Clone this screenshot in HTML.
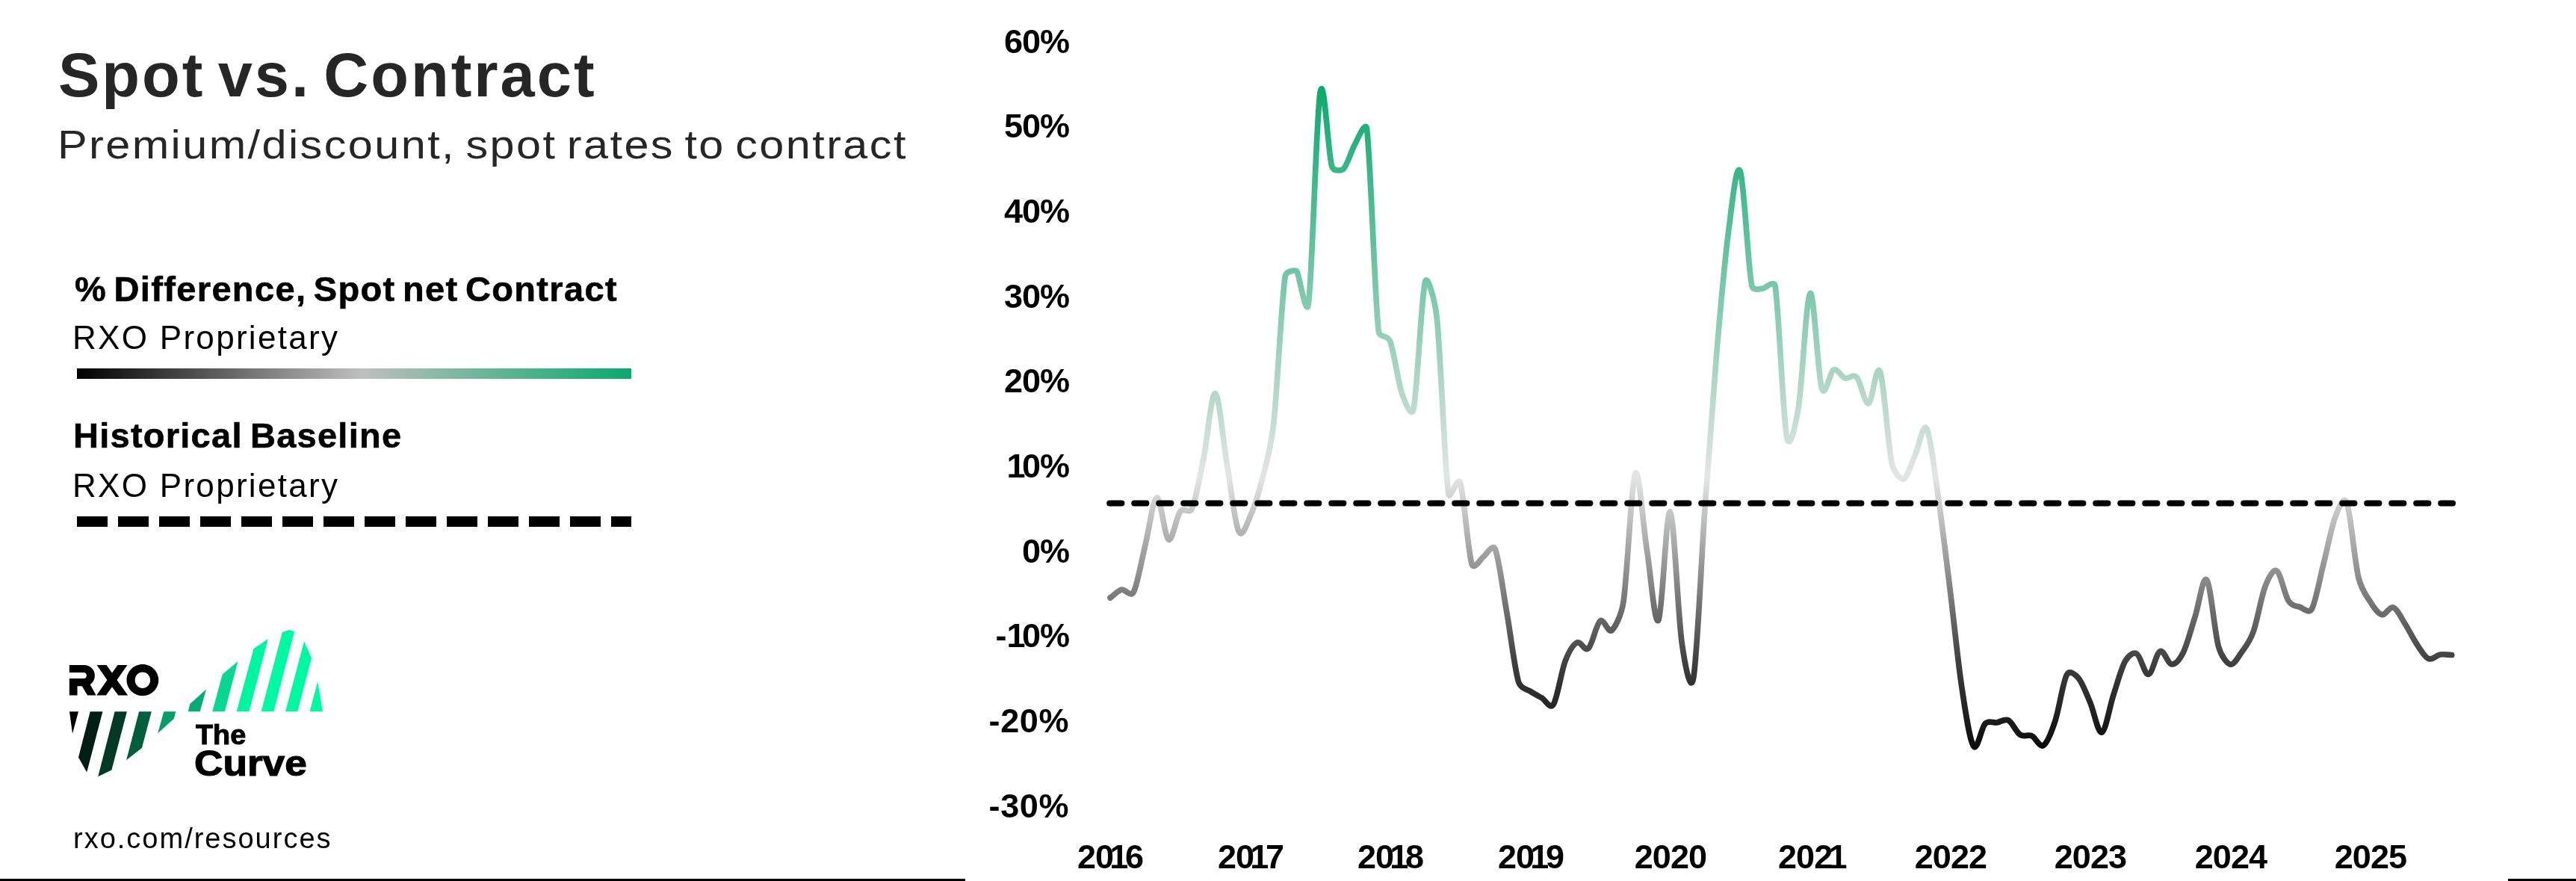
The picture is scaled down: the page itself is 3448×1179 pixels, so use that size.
<!DOCTYPE html>
<html><head><meta charset="utf-8"><title>Spot vs. Contract</title>
<style>
html,body{margin:0;padding:0;background:#fff;}
body{width:3448px;height:1179px;position:relative;overflow:hidden;font-family:"Liberation Sans",sans-serif;color:#000;}
.t{position:absolute;white-space:nowrap;line-height:1;transform-origin:0 0;margin:0;will-change:transform;}
.b{font-weight:bold;}
.yl{will-change:transform;position:absolute;white-space:nowrap;line-height:1;font-weight:bold;font-size:45px;letter-spacing:-1px;text-align:right;width:200px;left:1231px;transform-origin:100% 50%;}
.xl{will-change:transform;position:absolute;white-space:nowrap;line-height:1;font-weight:bold;font-size:45px;letter-spacing:-0.9px;text-align:center;width:200px;transform-origin:50% 50%;}
.one{margin-left:-5px;margin-right:-3.5px;}
svg{position:absolute;left:0;top:0;}
</style></head><body>

<div class="t b" id="title" style="left:78px;top:59px;font-size:83px;letter-spacing:3.0px;word-spacing:-8.8px;color:#262626;">Spot vs. Contract</div>
<div class="t" id="sub" style="left:77px;top:166px;font-size:54px;letter-spacing:2.2px;word-spacing:-5px;transform:scaleX(1.1);color:#262626;">Premium/discount, spot rates to contract</div>
<div class="t b" id="l1" style="left:100px;top:363px;font-size:47px;letter-spacing:1.35px;word-spacing:-5px;-webkit-text-stroke:0.6px #000;">% Difference, Spot net Contract</div>
<div class="t" id="l1s" style="left:97px;top:429.5px;font-size:44px;letter-spacing:2.3px;">RXO Proprietary</div>
<div class="t b" id="l2" style="left:98px;top:559px;font-size:47px;letter-spacing:1.25px;word-spacing:-4px;-webkit-text-stroke:0.6px #000;">Historical Baseline</div>
<div class="t" id="l2s" style="left:97px;top:627.5px;font-size:44px;letter-spacing:2.3px;">RXO Proprietary</div>
<div class="t" id="foot" style="left:97.5px;top:1102.5px;font-size:38px;letter-spacing:2px;">rxo.com/resources</div>
<div class="t b" id="the" style="left:261.5px;top:965.5px;font-size:36px;-webkit-text-stroke:1px #000;transform:scaleX(1.05);">The</div>
<div class="t b" id="curve" style="left:259.8px;top:997px;font-size:48.8px;-webkit-text-stroke:1.2px #000;transform:scaleX(1.09);">Curve</div>
<div class="yl" style="top:32.6px;">60%</div>
<div class="yl" style="top:146.3px;">50%</div>
<div class="yl" style="top:259.9px;">40%</div>
<div class="yl" style="top:373.6px;">30%</div>
<div class="yl" style="top:487.2px;">20%</div>
<div class="yl" style="top:600.9px;"><span class="one">1</span>0%</div>
<div class="yl" style="top:714.6px;">0%</div>
<div class="yl" style="top:828.2px;"><span style="margin-right:6px">-</span><span class="one">1</span>0%</div>
<div class="yl" style="top:941.9px;letter-spacing:0.6px;">-20%</div>
<div class="yl" style="top:1055.5px;letter-spacing:0.6px;">-30%</div>
<div class="xl" style="left:1386.3px;top:1123.5px;">20<span class="one">1</span>6</div>
<div class="xl" style="left:1573.8px;top:1123.5px;">20<span class="one">1</span>7</div>
<div class="xl" style="left:1761.2px;top:1123.5px;">20<span class="one">1</span>8</div>
<div class="xl" style="left:1948.6px;top:1123.5px;">20<span class="one">1</span>9</div>
<div class="xl" style="left:2136.1px;top:1123.5px;">2020</div>
<div class="xl" style="left:2323.6px;top:1123.5px;">202<span class="one">1</span></div>
<div class="xl" style="left:2511.0px;top:1123.5px;">2022</div>
<div class="xl" style="left:2698.4px;top:1123.5px;">2023</div>
<div class="xl" style="left:2885.9px;top:1123.5px;">2024</div>
<div class="xl" style="left:3073.3px;top:1123.5px;">2025</div>
<svg width="3448" height="1179" viewBox="0 0 3448 1179">
<defs>
<linearGradient id="lg1" x1="0" y1="0" x2="1" y2="0">
<stop offset="0" stop-color="#000000"/><stop offset="0.515" stop-color="#bebfbe"/><stop offset="1" stop-color="#08aa6d"/>
</linearGradient>
<linearGradient id="cg" gradientUnits="userSpaceOnUse" x1="0" y1="115" x2="0" y2="1003">
<stop offset="0" stop-color="#0aa96d"/><stop offset="0.59" stop-color="#e3e5e4"/><stop offset="0.867" stop-color="#404040"/><stop offset="1" stop-color="#0a0a0a"/>
</linearGradient>
</defs>
<rect x="103" y="493" width="742" height="14" fill="url(#lg1)"/>
<line x1="103" y1="698" x2="845" y2="698" stroke="#000" stroke-width="14" stroke-dasharray="41 14"/>
<rect x="0" y="1176" width="1292" height="3" fill="#000"/>
<rect x="3357" y="1176" width="91" height="3" fill="#000"/>

<polygon points="93.0,952.3 105.0,952.3 97.0,981.8" fill="#000000"/>
<polygon points="120.7,952.3 137.4,952.3 116.2,1033.5 105.0,1013.5" fill="#021d13"/>
<polygon points="153.6,952.3 169.9,952.3 149.4,1030.5 131.2,1039.2" fill="#023a26"/>
<polygon points="186.1,952.3 202.8,952.3 189.9,1001.0 169.1,1017.2" fill="#035e3c"/>
<polygon points="219.3,952.3 235.3,952.3 232.8,961.8 211.1,981.5" fill="#049d65"/>
<polygon points="251.8,952.3 254.3,942.1 276.0,922.4 267.7,952.3" fill="#06ac75"/>
<polygon points="284.2,952.3 297.7,902.4 318.4,884.9 300.9,952.3" fill="#07d791"/>
<polygon points="316.7,952.3 339.6,867.9 358.9,855.0 333.4,952.3" fill="#00f5a0"/>
<polygon points="349.6,952.3 377.8,846.2 386.6,843.0 394.1,845.0 366.4,952.3" fill="#00f8a2"/>
<polygon points="382.1,952.3 407.1,858.2 417.0,880.7 398.3,952.3" fill="#00f8a2"/>
<polygon points="414.5,952.3 425.3,911.9 432.0,952.3" fill="#00f8a2"/>
<g transform="translate(85,880) scale(0.068093)" fill="#000" fill-rule="evenodd">
<path d="M115,148 H400 C520,148 615,235 615,350 C615,430 580,495 525,530 L640,742 H470 L365,560 H272 V742 H115 V410 H400 C430,410 455,385 455,351 C455,317 430,292 400,292 H115 Z"/>
<path d="M655,148 H845 L955,300 L1065,148 H1255 L1050,440 L1265,742 H1075 L955,575 L835,742 H650 L858,440 Z"/>
<path d="M1555,132 C1728,132 1869,271 1869,442 C1869,613 1728,752 1555,752 C1382,752 1241,613 1241,442 C1241,271 1382,132 1555,132 Z M1555,288 C1472,288 1405,357 1405,445 C1405,533 1472,602 1555,602 C1638,602 1705,533 1705,445 C1705,357 1638,288 1555,288 Z"/>
</g>
<path d="M1486.00 800.00 C1491.20 796.33 1496.41 790.25 1501.62 789.00 C1505.36 788.10 1513.49 799.57 1517.23 792.50 C1522.43 782.67 1527.64 751.08 1532.85 730.00 C1538.05 708.92 1543.26 667.33 1548.46 666.00 C1553.66 664.67 1558.87 718.92 1564.08 722.00 C1569.28 725.08 1574.49 691.33 1579.69 684.50 C1584.54 678.13 1592.06 688.32 1595.31 681.00 C1600.51 669.25 1605.72 639.75 1610.92 614.00 C1616.12 588.25 1621.33 525.50 1626.54 526.50 C1631.74 527.50 1636.95 589.33 1642.15 620.00 C1647.36 650.67 1652.56 698.67 1657.77 710.50 C1662.79 721.93 1668.35 701.87 1673.38 691.00 C1678.59 679.75 1683.79 663.50 1688.99 643.00 C1693.35 625.85 1700.26 606.06 1704.61 568.00 C1709.82 522.50 1715.02 404.17 1720.22 370.00 C1721.51 361.54 1734.55 361.51 1735.84 363.00 C1738.80 366.42 1748.49 428.68 1751.45 406.00 C1756.66 366.17 1761.87 154.58 1767.07 124.00 C1772.27 93.42 1777.48 205.50 1782.68 222.50 C1785.03 230.15 1795.96 228.25 1798.30 226.00 C1803.50 221.00 1808.71 201.42 1813.91 192.50 C1815.49 189.81 1827.96 159.91 1829.53 172.50 C1834.73 214.17 1839.94 395.08 1845.14 442.50 C1846.31 453.09 1857.03 447.02 1860.76 457.00 C1865.96 470.92 1871.17 510.92 1876.38 526.00 C1880.71 538.56 1889.26 560.50 1891.99 547.50 C1897.19 522.67 1902.40 397.42 1907.61 377.00 C1910.36 366.18 1920.46 399.91 1923.22 425.00 C1928.42 472.33 1933.63 624.17 1938.84 661.00 C1940.35 671.72 1951.04 635.73 1954.45 646.00 C1959.65 661.67 1964.86 738.50 1970.07 755.00 C1972.85 763.84 1982.89 746.79 1985.68 745.00 C1989.24 742.72 1997.73 726.44 2001.30 735.00 C2006.50 747.50 2011.70 790.42 2016.91 820.00 C2022.11 849.58 2027.32 895.00 2032.53 912.50 C2035.38 922.09 2045.29 923.04 2048.14 925.00 C2053.34 928.58 2058.55 931.08 2063.76 934.00 C2068.53 936.68 2074.59 950.00 2079.37 942.50 C2084.57 934.33 2089.78 898.75 2094.99 885.00 C2100.19 871.25 2105.39 862.92 2110.60 860.00 C2115.80 857.08 2121.01 872.33 2126.22 867.50 C2131.42 862.67 2136.62 835.00 2141.83 831.00 C2147.03 827.00 2152.24 847.83 2157.45 843.50 C2160.51 840.95 2170.00 825.55 2173.06 805.00 C2178.26 770.08 2183.47 645.67 2188.68 634.00 C2193.88 622.33 2199.09 702.33 2204.29 735.00 C2209.49 767.67 2214.70 838.33 2219.90 830.00 C2225.11 821.67 2230.32 680.00 2235.52 685.00 C2240.72 690.00 2245.93 823.00 2251.14 860.00 C2254.58 884.52 2262.63 931.42 2266.75 907.00 C2271.95 876.17 2277.16 747.83 2282.36 675.00 C2287.57 602.17 2292.78 530.83 2297.98 470.00 C2303.18 409.17 2308.39 350.17 2313.60 310.00 C2318.80 269.83 2324.01 216.92 2329.21 229.00 C2334.41 241.08 2339.62 356.33 2344.82 382.50 C2346.39 390.35 2358.88 386.00 2360.44 386.00 C2361.68 386.00 2374.81 374.60 2376.06 382.50 C2381.26 415.67 2386.47 557.92 2391.67 585.00 C2395.72 606.08 2403.85 566.19 2407.28 545.00 C2412.49 512.92 2417.70 396.67 2422.90 392.50 C2428.11 388.33 2433.31 502.92 2438.51 520.00 C2442.81 534.10 2449.83 496.93 2454.13 495.00 C2459.34 492.67 2464.54 504.33 2469.74 506.00 C2474.95 507.67 2480.16 499.33 2485.36 505.00 C2490.57 510.67 2495.77 541.25 2500.97 540.00 C2506.18 538.75 2511.39 484.17 2516.59 497.50 C2521.80 510.83 2527.00 596.08 2532.20 620.00 C2534.99 632.79 2545.04 641.98 2547.82 641.00 C2553.02 639.17 2558.23 620.17 2563.43 609.00 C2568.64 597.83 2573.85 564.25 2579.05 574.00 C2584.26 583.75 2589.46 631.50 2594.66 667.50 C2599.87 703.50 2605.07 747.92 2610.28 790.00 C2615.48 832.08 2620.69 885.25 2625.89 920.00 C2631.10 954.75 2636.31 990.42 2641.51 998.50 C2646.72 1006.58 2651.92 973.75 2657.12 968.50 C2662.33 963.25 2667.53 967.75 2672.74 967.00 C2677.94 966.25 2683.15 961.28 2688.36 964.00 C2693.56 966.72 2698.77 979.83 2703.97 983.30 C2709.18 986.77 2714.38 982.43 2719.59 984.80 C2724.79 987.17 2729.99 1000.80 2735.20 997.50 C2740.40 994.20 2745.61 980.75 2750.82 965.00 C2756.02 949.25 2761.23 912.58 2766.43 903.00 C2770.31 895.86 2778.17 902.91 2782.05 907.50 C2787.25 913.67 2792.45 927.92 2797.66 940.00 C2802.86 952.08 2808.07 981.67 2813.28 980.00 C2818.48 978.33 2823.69 945.83 2828.89 930.00 C2834.10 914.17 2839.30 894.17 2844.51 885.00 C2849.08 876.94 2855.54 872.43 2860.12 875.00 C2865.32 877.92 2870.53 903.08 2875.74 902.50 C2880.94 901.92 2886.14 873.75 2891.35 871.50 C2896.55 869.25 2901.76 888.83 2906.97 889.00 C2911.95 889.16 2917.60 882.71 2922.58 872.50 C2927.78 861.83 2932.99 841.08 2938.19 825.00 C2943.40 808.92 2948.61 769.33 2953.81 776.00 C2959.01 782.67 2964.22 846.17 2969.43 865.00 C2973.24 878.80 2981.23 888.08 2985.04 889.00 C2990.24 890.25 2995.45 879.83 3000.65 872.50 C3005.86 865.17 3011.07 859.58 3016.27 845.00 C3021.47 830.42 3026.68 798.50 3031.89 785.00 C3036.59 772.79 3042.79 761.14 3047.50 764.00 C3052.70 767.17 3057.91 795.92 3063.11 804.00 C3067.93 811.47 3073.92 810.80 3078.73 812.50 C3082.50 813.83 3090.57 821.95 3094.35 815.00 C3099.55 805.42 3104.76 775.42 3109.96 755.00 C3115.16 734.58 3120.37 706.17 3125.57 692.50 C3130.02 680.83 3136.65 661.36 3141.19 673.00 C3146.39 686.33 3151.60 750.50 3156.81 772.50 C3160.96 790.04 3168.27 798.35 3172.42 805.00 C3177.62 813.33 3182.83 821.17 3188.03 822.50 C3193.24 823.83 3198.45 810.92 3203.65 813.00 C3208.86 815.08 3214.06 826.83 3219.27 835.00 C3224.47 843.17 3229.68 854.25 3234.88 862.00 C3240.09 869.75 3245.29 879.17 3250.49 881.50 C3255.70 883.83 3260.91 876.83 3266.11 876.00 C3271.32 875.17 3276.52 876.33 3281.73 876.50" fill="none" stroke="url(#cg)" stroke-width="7.7" stroke-linecap="round" stroke-linejoin="round"/>
<line x1="1485.2" y1="673.6" x2="3283" y2="673.6" stroke="#000" stroke-width="8" stroke-linecap="round" stroke-dasharray="16.2 16.8"/>
</svg>
</body></html>
